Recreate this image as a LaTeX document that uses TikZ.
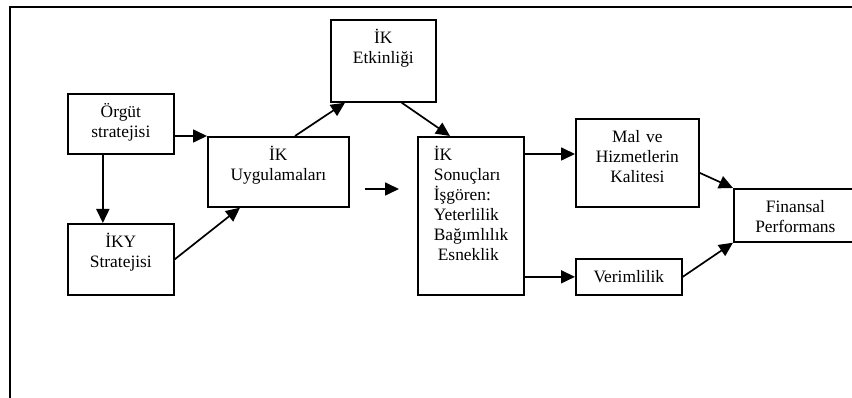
\documentclass[tikz,border=0pt]{standalone}
\usepackage{fontspec}
\setmainfont{Liberation Serif}
\usepackage{tikz}
\usetikzlibrary{arrows.meta}

\begin{document}
\begin{tikzpicture}[x=1pt, y=-1pt, font=\fontsize{17.4}{20}\selectfont]

    % Define styles
    \tikzstyle{box} = [rectangle, draw, line width=1.7pt, anchor=north west, inner xsep=0pt, inner ysep=0pt, text height=24pt, align=center]
    \tikzstyle{flow} = [line width=1.7pt, -{Triangle[length=14pt, width=13pt]}]

    \useasboundingbox (0,0) rectangle (852,398);

    % Frame
    \draw [line width=1.7pt] (10,398) -- (10,7) -- (852,7);

    % Strategy boxes
    \node [box, text width=106pt, text depth=36pt] (org) at (67,93) {Örgüt\\stratejisi};
    \node [box, text width=106pt, text depth=47pt] (iky) at (67,223) {İKY\\Stratejisi};

    % HR boxes
    \node [box, text width=141pt, text depth=46pt] (uyg) at (207,136) {İK\\Uygulamaları};
    \node [box, text width=105pt, text depth=58pt] (etk) at (330,19) {İK\\Etkinliği};
    \node [box, text width=74pt, inner xsep=16pt, align=left, text depth=134pt] (son) at (417,136)
        {İK\\Sonuçları\\İşgören:\\Yeterlilik\\Bağımlılık\\\hspace*{4pt}Esneklik};

    % Outcomes
    \node [box, text width=123pt, text depth=64pt] (mal) at (575,118) {Mal ve\\Hizmetlerin\\Kalitesi};
    \node [box, text width=106pt, text depth=12pt] (verim) at (575,258) {Verimlilik};
    \node [box, text width=123pt, text depth=29pt] (fin) at (733,188) {Finansal\\Performans};

    % Free arrow
    \coordinate (gapA) at (365,189);
    \coordinate (gapB) at (399,189);

    % Flows
    \draw [flow] (org.east |- uyg.north) -- (uyg.north west);
    \draw [flow] ([xshift=-18pt]org.south) -- ([xshift=-18pt]iky.north);
    \draw [flow] (iky.east) -- ([xshift=33pt]uyg.south west);
    \draw [flow] ([xshift=88pt]uyg.north west) -- ([xshift=15pt]etk.south west);
    \draw [flow] ([xshift=-35pt]etk.south east) -- ([xshift=33pt]son.north west);
    \draw [flow] (gapA) -- (gapB);
    \draw [flow] ([yshift=-18pt]son.north east) -- ([yshift=-18pt]son.north east -| mal.west);
    \draw [flow] (son.east |- verim.west) -- (verim.west);
    \draw [flow] ([yshift=-10pt]mal.east) -- (fin.north west);
    \draw [flow] (verim.east) -- (fin.south west);

\end{tikzpicture}
\end{document}
